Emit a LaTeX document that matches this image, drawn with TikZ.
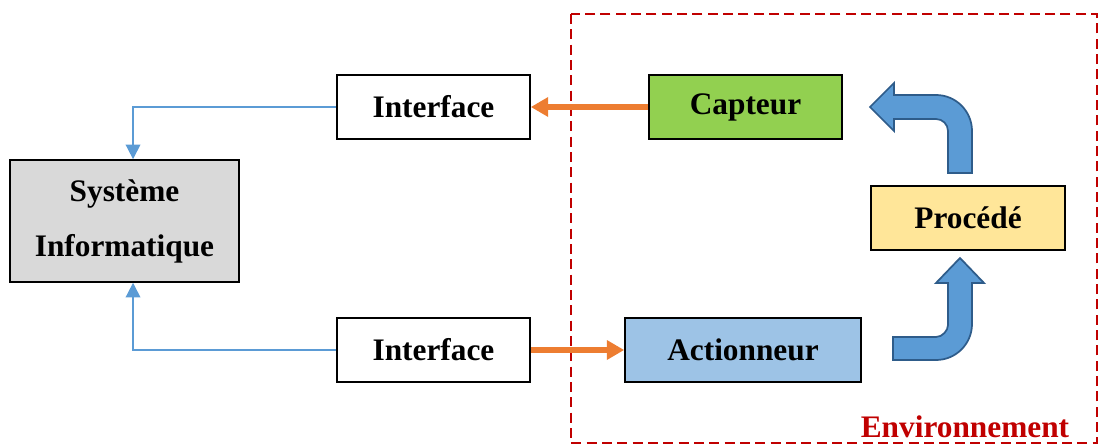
\documentclass[tikz,border=0pt]{standalone}
\usepackage{fontspec}
\setmainfont{Liberation Serif}
\usetikzlibrary{arrows.meta}
\definecolor{sysgray}{HTML}{D9D9D9}
\definecolor{capgreen}{HTML}{92D050}
\definecolor{actblue}{HTML}{9DC3E6}
\definecolor{procyellow}{HTML}{FFE699}
\definecolor{linkblue}{HTML}{5B9BD5}
\definecolor{bentfill}{HTML}{5B9BD5}
\definecolor{bentdraw}{HTML}{2E5C8A}
\definecolor{flowor}{HTML}{ED7D31}
\definecolor{envred}{HTML}{C00000}
\tikzset{
  box/.style={draw=black, line width=1.2pt, inner sep=0pt, minimum height=48pt,
    font=\fontsize{23.5}{28}\selectfont\bfseries},
  link/.style={draw=linkblue, line width=1.2pt, -{Triangle[length=11pt,width=11pt]}},
  flow/.style={draw=flowor, line width=3.8pt, -{Triangle[length=13pt,width=14pt]}},
  bent/.style={fill=bentfill, draw=bentdraw, line width=1.3pt, line join=miter},
}
\begin{document}
\begin{tikzpicture}[x=0.75pt, y=-0.75pt]
\useasboundingbox (0,0) rectangle (1100,446);

% environment frame
\draw[envred, line width=1.5pt, dash pattern=on 7.5pt off 4pt] (571,14) rectangle (1097,443);
\node[anchor=base, text=envred, font=\fontsize{23.5}{28}\selectfont\bfseries] (env) at (965,437) {Environnement};

% blocks
\node[box, fill=sysgray, minimum width=171.75pt, minimum height=91.5pt, align=center,
      font=\fontsize{23.5}{41.25}\selectfont\bfseries] (si) at (124.5,221) {Système\\Informatique};
\node[box, fill=white, minimum width=144.75pt] (itop) at (433.5,107) {Interface};
\node[box, fill=white, minimum width=144.75pt] (ibot) at (433.5,350) {Interface};
\node[box, fill=capgreen, minimum width=144.75pt] (cap) at (745.5,107) {Capteur};
\node[box, fill=actblue, minimum width=177pt] (act) at (743,350) {Actionneur};
\node[box, fill=procyellow, minimum width=145.5pt] (proc) at (968,218) {Procédé};

% links to the computer system
\coordinate (sitop) at ([xshift=6.4pt]si.north);
\coordinate (sibot) at ([xshift=6.4pt]si.south);
\draw[link] (itop.west) -| (sitop);
\draw[link] (ibot.west) -| (sibot);

% signal flows
\draw[flow] (cap.west) -- (itop.east);
\draw[flow] (ibot.east) -- (act.west);

% bent arrows of the process loop
\draw[bent] (870,107) -- (894,83) -- (894,95) -- (936,95)
  .. controls (955.9,95) and (972,111.1) .. (972,131) -- (972,173) -- (948,173) -- (948,131)
  .. controls (948,124.4) and (942.6,119) .. (936,119) -- (894,119) -- (894,131) -- cycle;
\draw[bent] (960,258) -- (984,283) -- (972,283) -- (972,324)
  .. controls (972,343.9) and (955.9,360) .. (936,360) -- (893,360) -- (893,337) -- (936,337)
  .. controls (942.6,337) and (948,330.4) .. (948,325) -- (948,283) -- (936,283) -- cycle;
\end{tikzpicture}
\end{document}
